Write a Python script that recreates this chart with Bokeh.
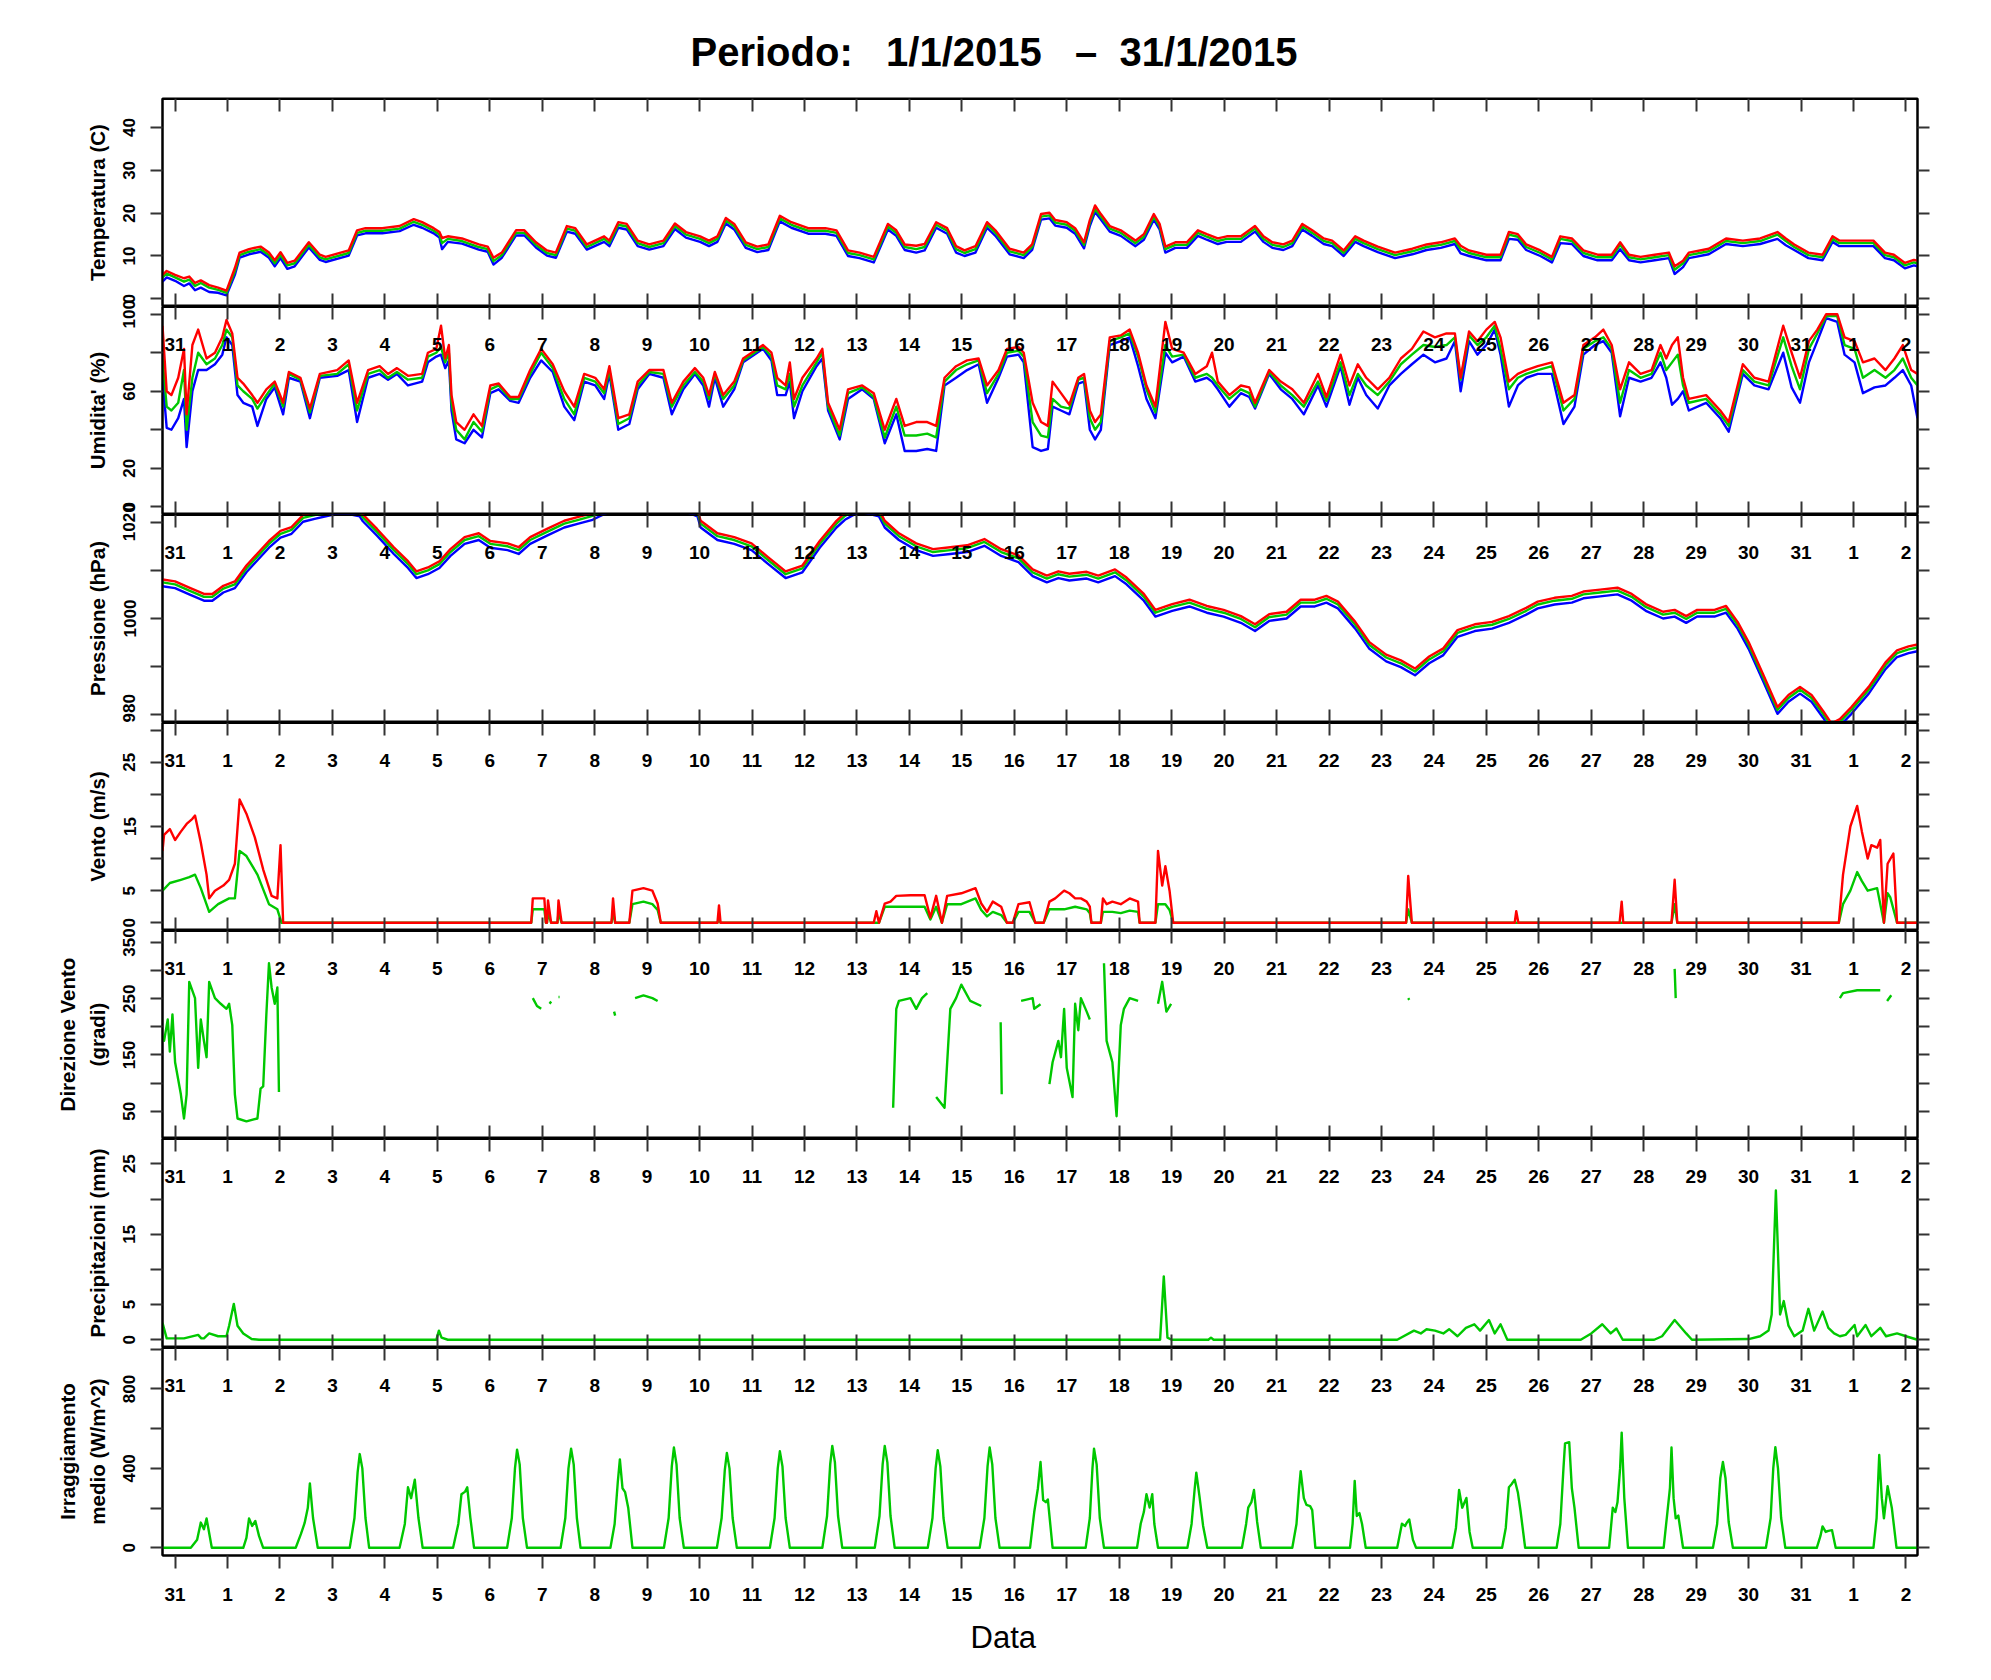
import numpy as np
from bokeh.plotting import figure
from bokeh.models import Range1d, LinearAxis, FixedTicker, Title
from bokeh.layouts import column
from bokeh.embed import file_html
from bokeh.resources import INLINE

nan = float("nan")

# ---------------- data (time = days since 1 Jan 2015 00:00) ----------------
day_ticks = list(range(-1, 33))
day_names = ["31"] + [str(d) for d in range(1, 32)] + ["1", "2"]

# Temperatura (C)
t_temp = [-1.24, -1.16, -1.00, -0.83, -0.73, -0.62, -0.51, -0.35, -0.18, -0.02,
          0.14, 0.23, 0.41, 0.63, 0.79, 0.90, 1.01, 1.14, 1.28, 1.55,
          1.76, 1.87, 2.31, 2.47, 2.63, 2.95, 3.28, 3.55, 3.71, 3.93,
          4.04, 4.09, 4.20, 4.47, 4.79, 4.96, 5.07, 5.23, 5.50, 5.66,
          5.88, 6.09, 6.26, 6.47, 6.63, 6.85, 7.18, 7.28, 7.45, 7.61,
          7.82, 8.04, 8.31, 8.53, 8.74, 9.01, 9.18, 9.34, 9.50, 9.66,
          9.88, 10.10, 10.31, 10.53, 10.75, 11.07, 11.40, 11.61, 11.83, 12.05,
          12.32, 12.59, 12.75, 12.91, 13.13, 13.29, 13.51, 13.72, 13.89, 14.05,
          14.26, 14.48, 14.64, 14.91, 15.18, 15.34, 15.51, 15.67, 15.78, 16.00,
          16.16, 16.33, 16.44, 16.54, 16.65, 16.82, 17.03, 17.31, 17.47, 17.66,
          17.77, 17.88, 18.07, 18.29, 18.50, 18.67, 18.88, 19.05, 19.32, 19.59,
          19.75, 19.92, 20.13, 20.30, 20.49, 20.68, 20.90, 21.06, 21.28, 21.50,
          21.66, 21.93, 22.26, 22.59, 22.86, 23.13, 23.40, 23.51, 23.67, 24.00,
          24.27, 24.43, 24.60, 24.76, 25.03, 25.25, 25.41, 25.63, 25.85, 26.12,
          26.39, 26.55, 26.72, 26.94, 27.21, 27.48, 27.59, 27.75, 27.86, 28.24,
          28.57, 28.89, 29.22, 29.55, 29.71, 29.87, 30.14, 30.41, 30.60, 30.73,
          31.05, 31.38, 31.60, 31.77, 31.98, 32.15, 32.22]
temp_mean = [5.0, 5.9, 5.0, 4.0, 4.5, 3.0, 3.7, 2.6, 2.1, 1.4,
             6.4, 10.2, 11.0, 11.6, 10.2, 8.3, 10.2, 7.8, 8.3, 12.6,
             9.7, 9.2, 10.7, 15.4, 15.9, 15.9, 16.4, 18.0, 17.3, 15.9,
             15.0, 13.0, 14.0, 13.5, 12.1, 11.6, 8.8, 10.2, 15.4, 15.4,
             12.6, 10.7, 10.2, 16.4, 15.9, 12.1, 14.0, 13.0, 17.3, 16.9,
             13.0, 12.1, 13.0, 17.0, 15.0, 14.0, 13.0, 14.0, 18.3, 16.9,
             12.6, 11.6, 12.1, 18.8, 17.3, 15.9, 15.9, 15.4, 10.7, 10.2,
             9.2, 16.9, 15.4, 12.1, 11.6, 12.1, 17.3, 15.9, 11.6, 10.7,
             11.6, 17.3, 15.4, 11.1, 10.2, 12.1, 19.2, 19.5, 17.8, 17.3,
             15.9, 12.6, 17.8, 21.0, 19.2, 16.4, 15.4, 13.0, 14.5, 19.2,
             16.9, 11.6, 12.6, 12.6, 15.4, 14.5, 13.5, 14.0, 14.0, 16.4,
             14.0, 12.6, 12.1, 13.0, 16.9, 15.4, 13.5, 13.0, 10.7, 14.0,
             13.0, 11.6, 10.2, 11.1, 12.1, 12.6, 13.5, 11.6, 10.7, 9.7,
             9.7, 15.0, 14.5, 12.1, 10.7, 9.2, 14.0, 13.5, 10.7, 9.7,
             9.7, 12.6, 9.7, 9.2, 9.7, 10.2, 6.8, 8.3, 10.2, 11.1,
             13.5, 13.0, 13.5, 15.0, 13.5, 12.1, 10.2, 9.7, 14.0, 13.0,
             13.0, 13.0, 10.2, 9.7, 7.8, 8.5, 8.3]
temp_max = [5.6, 6.5, 5.6, 4.8, 5.2, 3.7, 4.3, 3.2, 2.6, 1.9,
            7.2, 10.8, 11.6, 12.2, 10.8, 9.0, 10.9, 8.4, 8.9, 13.2,
            10.3, 9.8, 11.3, 16.0, 16.5, 16.5, 17.0, 18.6, 17.9, 16.5,
            15.6, 14.2, 14.6, 14.1, 12.7, 12.2, 9.6, 10.8, 16.0, 16.0,
            13.2, 11.3, 10.8, 17.0, 16.5, 12.7, 14.6, 13.6, 17.9, 17.5,
            13.6, 12.7, 13.6, 17.6, 15.6, 14.6, 13.6, 14.6, 18.9, 17.5,
            13.2, 12.2, 12.7, 19.4, 17.9, 16.5, 16.5, 16.0, 11.3, 10.8,
            9.8, 17.5, 16.0, 12.7, 12.4, 12.8, 17.9, 16.5, 12.3, 11.3,
            12.3, 17.9, 16.0, 11.7, 10.8, 12.7, 19.8, 20.1, 18.4, 17.9,
            16.5, 13.2, 18.4, 21.8, 19.8, 17.0, 16.0, 13.6, 15.1, 19.8,
            17.5, 12.2, 13.2, 13.2, 16.0, 15.1, 14.1, 14.6, 14.6, 17.0,
            14.6, 13.2, 12.7, 13.6, 17.5, 16.0, 14.1, 13.6, 11.3, 14.6,
            13.6, 12.2, 10.8, 11.7, 12.7, 13.2, 14.1, 12.4, 11.3, 10.3,
            10.3, 15.6, 15.1, 12.7, 11.3, 9.8, 14.6, 14.1, 11.3, 10.3,
            10.3, 13.2, 10.3, 9.8, 10.3, 10.8, 7.6, 8.9, 10.8, 11.7,
            14.1, 13.6, 14.1, 15.6, 14.1, 12.7, 10.8, 10.3, 14.6, 13.6,
            13.6, 13.6, 10.8, 10.3, 8.4, 9.1, 8.9]
temp_min = [4.0, 5.0, 4.2, 3.0, 3.6, 2.0, 2.6, 1.6, 1.4, 0.8,
            5.6, 9.6, 10.4, 11.0, 9.6, 7.6, 9.5, 7.0, 7.6, 12.0,
            9.1, 8.6, 10.1, 14.8, 15.3, 15.3, 15.8, 17.3, 16.6, 15.3,
            14.3, 11.6, 13.3, 12.9, 11.5, 11.0, 8.0, 9.6, 14.8, 14.8,
            12.0, 10.1, 9.6, 15.7, 15.2, 11.5, 13.3, 12.3, 16.6, 16.2,
            12.3, 11.5, 12.3, 16.3, 14.3, 13.3, 12.3, 13.3, 17.6, 16.2,
            11.9, 10.9, 11.4, 18.1, 16.6, 15.2, 15.2, 14.7, 10.0, 9.5,
            8.5, 16.2, 14.7, 11.4, 10.8, 11.3, 16.6, 15.2, 10.8, 10.0,
            10.8, 16.6, 14.7, 10.4, 9.5, 11.4, 18.5, 18.8, 17.1, 16.6,
            15.2, 11.8, 17.0, 20.3, 18.5, 15.7, 14.7, 12.3, 13.8, 18.5,
            16.2, 10.8, 11.9, 11.9, 14.7, 13.8, 12.8, 13.3, 13.3, 15.7,
            13.3, 11.9, 11.4, 12.3, 16.2, 14.7, 12.8, 12.3, 10.0, 13.3,
            12.3, 10.9, 9.5, 10.4, 11.4, 11.9, 12.8, 10.6, 10.0, 9.0,
            9.0, 14.0, 13.8, 11.4, 10.0, 8.5, 13.0, 12.8, 10.0, 9.0,
            9.0, 11.6, 9.0, 8.5, 9.0, 9.5, 5.8, 7.4, 9.5, 10.4,
            12.8, 12.3, 12.8, 14.0, 12.5, 11.4, 9.5, 9.0, 13.3, 12.3,
            12.3, 12.3, 9.5, 9.0, 7.1, 7.8, 7.6]

# Umidita' (%)
t_hum = [-1.24, -1.16, -1.07, -0.94, -0.83, -0.78, -0.67, -0.56, -0.40, -0.24,
         -0.10, -0.02, 0.09, 0.19, 0.30, 0.47, 0.57, 0.74, 0.90, 1.06,
         1.17, 1.39, 1.57, 1.76, 2.09, 2.31, 2.47, 2.68, 2.90, 3.06,
         3.23, 3.44, 3.71, 3.82, 3.98, 4.07, 4.15, 4.22, 4.27, 4.36,
         4.52, 4.69, 4.85, 5.01, 5.17, 5.39, 5.55, 5.77, 5.98, 6.20,
         6.42, 6.61, 6.80, 7.01, 7.18, 7.28, 7.45, 7.66, 7.82, 8.04,
         8.31, 8.47, 8.69, 8.91, 9.07, 9.18, 9.29, 9.45, 9.66, 9.83,
         10.21, 10.37, 10.48, 10.64, 10.72, 10.80, 10.96, 11.23, 11.34, 11.45,
         11.67, 11.83, 12.10, 12.32, 12.53, 12.75, 12.91, 13.13, 13.34, 13.51,
         13.67, 13.89, 14.10, 14.32, 14.48, 14.70, 14.86, 15.08, 15.18, 15.35,
         15.51, 15.64, 15.73, 15.89, 16.05, 16.22, 16.33, 16.44, 16.54, 16.65,
         16.82, 17.03, 17.20, 17.36, 17.52, 17.69, 17.88, 18.01, 18.23, 18.45,
         18.67, 18.77, 18.88, 19.10, 19.32, 19.48, 19.59, 19.86, 20.08, 20.30,
         20.52, 20.79, 20.95, 21.22, 21.39, 21.55, 21.71, 21.93, 22.15, 22.37,
         22.58, 22.80, 23.02, 23.24, 23.40, 23.51, 23.67, 23.83, 24.00, 24.16,
         24.27, 24.43, 24.60, 24.76, 24.98, 25.25, 25.47, 25.68, 25.85, 26.07,
         26.23, 26.39, 26.55, 26.72, 26.94, 27.15, 27.32, 27.43, 27.54, 27.65,
         27.75, 27.86, 28.19, 28.46, 28.62, 28.89, 29.11, 29.38, 29.66, 29.82,
         29.98, 30.15, 30.31, 30.48, 30.69, 30.83, 31.02, 31.18, 31.40, 31.61,
         31.78, 31.94, 32.10, 32.22]
hum_mean = [77, 52, 50, 54, 71, 40, 67, 80, 74, 77,
            84, 92, 88, 63, 60, 56, 51, 58, 64, 52,
            69, 66, 49, 68, 69, 74, 50, 69, 71, 67,
            70, 66, 67, 78, 80, 83, 75, 80, 54, 40,
            35, 44, 39, 61, 63, 56, 56, 69, 80, 72,
            56, 48, 67, 65, 59, 71, 43, 46, 63, 70,
            69, 52, 63, 70, 65, 56, 69, 56, 63, 76,
            83, 78, 63, 61, 69, 52, 63, 75, 80, 52,
            37, 59, 62, 57, 36, 52, 37, 37, 38, 36,
            65, 71, 74, 76, 59, 69, 80, 81, 78, 44,
            37, 36, 56, 52, 51, 66, 67, 46, 40, 44,
            86, 88, 90, 78, 61, 49, 84, 78, 79, 67,
            69, 67, 63, 56, 61, 59, 52, 70, 63, 58,
            52, 65, 55, 75, 58, 69, 63, 58, 65, 74,
            79, 84, 83, 84, 88, 66, 89, 84, 88, 94,
            82, 61, 67, 69, 71, 73, 50, 56, 82, 86,
            88, 82, 54, 71, 67, 69, 80, 71, 75, 79,
            63, 54, 56, 48, 42, 71, 65, 63, 88, 73,
            61, 82, 90, 99, 99, 84, 82, 67, 71, 67,
            71, 77, 67, 63]
hum_max = [94, 60, 58, 67, 82, 48, 84, 92, 77, 80,
           88, 97, 90, 67, 64, 58, 54, 61, 65, 54,
           70, 67, 51, 69, 71, 76, 54, 71, 73, 69,
           72, 68, 69, 80, 82, 94, 77, 84, 58, 44,
           40, 48, 42, 63, 64, 57, 57, 71, 82, 74,
           60, 52, 69, 67, 61, 73, 46, 48, 65, 71,
           71, 54, 65, 72, 67, 58, 70, 58, 65, 77,
           84, 80, 67, 63, 75, 56, 67, 77, 82, 54,
           40, 61, 63, 59, 40, 56, 42, 44, 44, 42,
           67, 73, 76, 77, 63, 71, 82, 83, 80, 54,
           44, 42, 65, 59, 53, 67, 69, 50, 44, 48,
           88, 89, 92, 80, 63, 52, 96, 82, 80, 69,
           73, 80, 65, 58, 63, 62, 54, 71, 65, 61,
           54, 69, 57, 79, 63, 74, 67, 61, 67, 77,
           82, 91, 88, 90, 90, 67, 91, 86, 92, 96,
           88, 65, 69, 71, 73, 75, 54, 58, 84, 88,
           92, 84, 61, 75, 69, 71, 84, 77, 84, 88,
           67, 56, 58, 50, 44, 74, 67, 65, 94, 80,
           67, 86, 92, 100, 100, 88, 86, 75, 77, 71,
           77, 84, 71, 69]
hum_min = [67, 41, 40, 46, 56, 31, 60, 71, 71, 74,
           79, 88, 84, 58, 54, 52, 42, 56, 62, 48,
           67, 65, 46, 67, 68, 71, 44, 67, 69, 66,
           69, 63, 65, 75, 78, 79, 72, 76, 50, 35,
           33, 40, 36, 59, 61, 55, 54, 67, 76, 70,
           52, 45, 65, 63, 56, 69, 40, 43, 61, 69,
           67, 48, 61, 69, 63, 52, 67, 52, 61, 75,
           82, 76, 58, 58, 65, 46, 60, 73, 77, 50,
           35, 56, 61, 56, 33, 48, 29, 29, 30, 29,
           63, 67, 71, 74, 54, 67, 78, 79, 75, 31,
           29, 30, 52, 50, 48, 64, 65, 40, 35, 40,
           84, 86, 88, 73, 56, 46, 80, 75, 78, 65,
           67, 65, 61, 52, 59, 57, 51, 69, 61, 56,
           48, 63, 52, 73, 53, 67, 58, 51, 63, 69,
           74, 79, 75, 77, 86, 60, 86, 79, 84, 92,
           79, 52, 63, 67, 69, 69, 43, 52, 79, 84,
           86, 80, 47, 67, 65, 67, 75, 67, 53, 56,
           60, 50, 54, 46, 39, 69, 63, 61, 80, 62,
           54, 75, 86, 98, 96, 79, 75, 59, 62, 63,
           67, 71, 63, 46]

# Pressione (hPa)
t_pres = [-1.24, -1.00, -0.73, -0.45, -0.29, -0.08, 0.14, 0.36, 0.57, 0.79,
          1.01, 1.22, 1.44, 1.66, 1.98, 2.31, 2.52, 2.58, 2.85, 3.17,
          3.44, 3.60, 3.82, 4.04, 4.25, 4.52, 4.79, 5.01, 5.34, 5.55,
          5.77, 6.09, 6.42, 6.69, 6.96, 7.28, 7.80, 8.37, 8.96, 9.02,
          9.34, 9.66, 9.99, 10.31, 10.64, 10.96, 11.29, 11.61, 11.77, 12.05,
          12.42, 12.53, 12.80, 13.13, 13.45, 13.78, 14.10, 14.43, 14.75, 15.08,
          15.35, 15.62, 15.84, 16.05, 16.38, 16.60, 16.92, 17.14, 17.47, 17.69,
          18.01, 18.34, 18.67, 18.99, 19.32, 19.59, 19.86, 20.19, 20.46, 20.73,
          20.95, 21.17, 21.50, 21.77, 22.09, 22.37, 22.64, 22.91, 23.18, 23.45,
          23.78, 24.11, 24.43, 24.76, 24.98, 25.30, 25.63, 25.85, 26.17, 26.50,
          26.77, 27.04, 27.37, 27.59, 27.81, 28.02, 28.35, 28.57, 28.79, 29.00,
          29.28, 29.55, 29.76, 29.98, 30.20, 30.42, 30.58, 30.74, 30.96, 31.29,
          31.61, 31.83, 32.05, 32.22]
pres_mean = [1007.5, 1007.1, 1005.8, 1004.5, 1004.5, 1006.2, 1007.1, 1010.4, 1012.9, 1015.5,
             1017.6, 1018.4, 1020.9, 1021.5, 1022.3, 1022.5, 1022.0, 1021.0, 1018.0, 1014.2,
             1011.3, 1009.2, 1010.0, 1011.3, 1013.8, 1016.3, 1017.1, 1015.5, 1015.0, 1014.2,
             1016.3, 1018.0, 1019.7, 1020.5, 1021.3, 1023.0, 1024.0, 1024.5, 1022.0, 1019.7,
             1017.1, 1016.3, 1015.0, 1012.1, 1009.2, 1010.4, 1015.5, 1019.7, 1021.3, 1023.0,
             1022.0, 1019.7, 1017.1, 1015.0, 1013.8, 1014.2, 1014.6, 1015.9, 1013.8, 1012.5,
             1009.6, 1008.3, 1009.2, 1008.7, 1009.1, 1008.3, 1009.6, 1007.9, 1004.5, 1001.2,
             1002.4, 1003.3, 1002.0, 1001.2, 999.9, 998.2, 1000.3, 1000.8, 1003.3, 1003.3,
             1004.1, 1002.9, 998.7, 994.5, 991.9, 990.7, 989.0, 991.5, 993.2, 997.0,
             998.2, 998.7, 999.9, 1001.6, 1002.9, 1003.7, 1004.1, 1005.0, 1005.4, 1005.8,
             1004.5, 1002.4, 1000.8, 1001.2, 999.9, 1001.2, 1001.2, 1002.0, 998.7, 994.5,
             987.7, 981.0, 983.5, 985.2, 983.5, 980.2, 977.6, 978.5, 981.0, 985.2,
             990.3, 992.8, 993.6, 994.0]
pres_max = [1008.1, 1007.7, 1006.4, 1005.1, 1005.1, 1006.8, 1007.7, 1011.0, 1013.5, 1016.1,
            1018.2, 1019.0, 1021.5, 1022.1, 1022.9, 1023.1, 1022.6, 1021.6, 1018.6, 1014.8,
            1011.9, 1009.8, 1010.6, 1011.9, 1014.4, 1016.9, 1017.7, 1016.1, 1015.6, 1014.8,
            1016.9, 1018.6, 1020.3, 1021.1, 1021.9, 1023.6, 1024.6, 1025.1, 1022.6, 1020.3,
            1017.7, 1016.9, 1015.6, 1012.7, 1009.8, 1011.0, 1016.1, 1020.3, 1021.9, 1023.6,
            1022.6, 1020.3, 1017.7, 1015.6, 1014.4, 1014.8, 1015.2, 1016.5, 1014.4, 1013.1,
            1010.2, 1008.9, 1009.8, 1009.3, 1009.7, 1008.9, 1010.2, 1008.5, 1005.1, 1001.8,
            1003.0, 1003.9, 1002.6, 1001.8, 1000.5, 998.8, 1000.9, 1001.4, 1003.9, 1003.9,
            1004.7, 1003.5, 999.3, 995.1, 992.5, 991.3, 989.6, 992.1, 993.8, 997.6,
            998.8, 999.3, 1000.5, 1002.2, 1003.5, 1004.3, 1004.7, 1005.6, 1006.0, 1006.4,
            1005.1, 1003.0, 1001.4, 1001.8, 1000.5, 1001.8, 1001.8, 1002.6, 999.3, 995.1,
            988.3, 981.6, 984.1, 985.8, 984.1, 980.8, 978.2, 979.1, 981.6, 985.8,
            990.9, 993.4, 994.2, 994.6]
pres_min = [1006.7, 1006.3, 1005.0, 1003.7, 1003.7, 1005.4, 1006.3, 1009.6, 1012.1, 1014.7,
            1016.8, 1017.6, 1020.1, 1020.7, 1021.5, 1021.7, 1021.2, 1020.2, 1017.2, 1013.4,
            1010.5, 1008.4, 1009.2, 1010.5, 1013.0, 1015.5, 1016.3, 1014.7, 1014.2, 1013.4,
            1015.5, 1017.2, 1018.9, 1019.7, 1020.5, 1022.2, 1023.2, 1023.7, 1021.2, 1018.9,
            1016.3, 1015.5, 1014.2, 1011.3, 1008.4, 1009.6, 1014.7, 1018.9, 1020.5, 1022.2,
            1021.2, 1018.9, 1016.3, 1014.2, 1013.0, 1013.4, 1013.8, 1015.1, 1013.0, 1011.7,
            1008.8, 1007.5, 1008.4, 1007.9, 1008.3, 1007.5, 1008.8, 1007.1, 1003.7, 1000.4,
            1001.6, 1002.5, 1001.2, 1000.4, 999.1, 997.4, 999.5, 1000.0, 1002.5, 1002.5,
            1003.3, 1002.1, 997.9, 993.7, 991.1, 989.9, 988.2, 990.7, 992.4, 996.2,
            997.4, 997.9, 999.1, 1000.8, 1002.1, 1002.9, 1003.3, 1004.2, 1004.6, 1005.0,
            1003.7, 1001.6, 1000.0, 1000.4, 999.1, 1000.4, 1000.4, 1001.2, 997.9, 993.7,
            986.9, 980.2, 982.7, 984.4, 982.7, 979.4, 976.8, 977.7, 980.2, 984.4,
            989.5, 992.0, 992.8, 993.2]

# Vento (m/s): raffica (red) and media (green)
t_gust = [-1.24, -1.21, -1.10, -1.00, -0.89, -0.78, -0.67, -0.62, -0.51, -0.40,
          -0.35, -0.24, -0.08, 0.03, 0.14, 0.23, 0.36, 0.52, 0.68, 0.84,
          0.95, 1.01, 1.06, 5.79, 5.82, 6.04, 6.07, 6.09, 6.11, 6.17,
          6.29, 6.31, 6.37, 7.32, 7.35, 7.39, 7.66, 7.72, 7.93, 8.10,
          8.20, 8.26, 9.34, 9.37, 9.40, 12.32, 12.37, 12.42, 12.53, 12.64,
          12.75, 13.02, 13.29, 13.40, 13.51, 13.62, 13.72, 13.99, 14.26, 14.37,
          14.48, 14.59, 14.75, 14.86, 14.97, 15.08, 15.29, 15.40, 15.56, 15.67,
          15.78, 15.95, 16.05, 16.16, 16.27, 16.38, 16.44, 16.47, 16.65, 16.69,
          16.76, 16.87, 17.03, 17.20, 17.36, 17.39, 17.69, 17.74, 17.82, 17.88,
          17.96, 18.03, 22.47, 22.51, 22.58, 24.54, 24.57, 24.61, 26.54, 26.58,
          26.61, 27.53, 27.59, 27.64, 30.72, 30.80, 30.94, 31.07, 31.16, 31.27,
          31.34, 31.45, 31.51, 31.58, 31.65, 31.76, 31.83, 32.22]
wind_gust = [11.2, 13.7, 14.6, 12.9, 14.2, 15.4, 16.2, 16.7, 12.5, 7.5,
             3.8, 5.0, 5.8, 6.7, 9.2, 19.2, 17.0, 13.3, 8.3, 4.2,
             3.8, 12.1, 0, 0, 3.8, 3.8, 0, 0, 3.5, 0,
             0, 3.5, 0, 0, 3.8, 0, 0, 5.0, 5.4, 5.0,
             3.0, 0, 0, 2.7, 0, 0, 1.8, 0, 3.0, 3.3,
             4.2, 4.3, 4.3, 0.8, 4.2, 0, 4.2, 4.6, 5.4, 3.0,
             1.7, 3.3, 2.5, 0, 0, 2.9, 3.2, 0, 0, 3.3,
             3.8, 5.0, 4.6, 3.8, 3.8, 3.3, 2.5, 0, 0, 3.8,
             2.9, 3.3, 2.9, 3.8, 3.3, 0, 0, 11.2, 5.8, 8.8,
             5.0, 0, 0, 7.3, 0, 0, 1.8, 0, 0, 3.3,
             0, 0, 6.7, 0, 0, 7.5, 15.0, 18.2, 14.2, 10.0,
             12.1, 11.7, 12.9, 0, 9.2, 10.8, 0, 0]
t_wind = [-1.24, -1.10, -0.89, -0.73, -0.62, -0.51, -0.35, -0.18, 0.03, 0.14,
          0.23, 0.36, 0.57, 0.79, 0.95, 1.03, 5.79, 5.82, 6.04, 6.07,
          6.09, 6.11, 6.17, 6.29, 6.31, 6.37, 7.32, 7.35, 7.39, 7.66,
          7.72, 7.93, 8.10, 8.20, 8.26, 9.34, 9.37, 9.40, 12.42, 12.53,
          12.75, 13.02, 13.29, 13.40, 13.51, 13.62, 13.72, 13.99, 14.26, 14.37,
          14.48, 14.59, 14.75, 14.86, 14.97, 15.08, 15.29, 15.40, 15.56, 15.67,
          15.95, 16.16, 16.38, 16.44, 16.47, 16.65, 16.69, 16.87, 17.03, 17.20,
          17.36, 17.39, 17.69, 17.74, 17.88, 17.96, 18.03, 22.47, 22.51, 22.58,
          27.53, 27.59, 27.64, 30.72, 30.80, 30.94, 31.07, 31.16, 31.27, 31.45,
          31.58, 31.65, 31.70, 31.83, 32.22]
wind_mean = [5.0, 6.2, 6.7, 7.1, 7.5, 5.4, 1.7, 2.9, 3.8, 3.8,
             11.2, 10.4, 7.5, 2.9, 2.1, 0, 0, 2.1, 2.1, 0,
             0, 1.5, 0, 0, 1.5, 0, 0, 1.7, 0, 0,
             2.9, 3.3, 2.9, 2.0, 0, 0, 0.5, 0, 0, 2.5,
             2.5, 2.5, 2.5, 0.5, 2.5, 0, 2.9, 2.9, 3.8, 2.0,
             1.0, 1.7, 1.2, 0, 0, 1.7, 1.7, 0, 0, 2.1,
             2.1, 2.5, 2.1, 1.5, 0, 0, 1.7, 1.7, 1.5, 1.9,
             1.7, 0, 0, 2.9, 2.9, 2.0, 0, 0, 2.1, 0,
             0, 2.9, 0, 0, 2.9, 5.0, 7.9, 6.5, 5.0, 5.4,
             0, 4.6, 4.0, 0, 0]

# Direzione Vento (gradi); nan = calma / dato mancante
t_dir = [-1.24, -1.21, -1.14, -1.10, -1.05, -1.00, -0.89, -0.83, -0.78, -0.73,
         -0.62, -0.56, -0.51, -0.45, -0.40, -0.35, -0.24, -0.13, -0.02, 0.03,
         0.09, 0.14, 0.19, 0.36, 0.57, 0.63, 0.68, 0.74, 0.79, 0.84,
         0.90, 0.95, 0.98, 1.00,
         5.82, 5.90, 5.98, 6.00, 6.14, 6.17, 6.19, 6.31, 6.33, 6.35,
         7.37, 7.39, 7.41, 7.77, 7.93, 8.10, 8.20, 8.22,
         12.69, 12.75, 12.80, 13.02, 13.13, 13.24, 13.34, 13.36,
         13.51, 13.67, 13.78, 13.89, 13.99, 14.16, 14.37, 14.39,
         14.74, 14.76, 14.78, 15.13, 15.35, 15.38, 15.50, 15.52,
         15.67, 15.73, 15.84, 15.89, 15.95, 16.00, 16.11, 16.16, 16.22, 16.27, 16.38, 16.44, 16.46,
         16.71, 16.76, 16.87, 16.95, 17.03, 17.09, 17.20, 17.36, 17.38,
         17.74, 17.82, 17.90, 17.99, 18.01,
         22.51, 22.53, 22.55,
         27.59, 27.61, 27.63,
         30.74, 30.80, 31.07, 31.29, 31.51, 31.53, 31.64, 31.72, 31.74]
wind_dir = [184, 175, 213, 156, 222, 137, 80, 37, 80, 280,
            251, 127, 213, 175, 146, 280, 251, 241, 232, 241,
            203, 80, 37, 32, 37, 90, 94, 222, 313, 270,
            241, 270, 84, nan,
            251, 237, 232, nan, 241, 245, nan, 253, 253, nan,
            227, 220, nan, 251, 256, 251, 246, nan,
            56, 232, 246, 251, 232, 251, 260, nan,
            75, 56, 232, 251, 275, 246, 237, nan,
            208, 80, nan, 246, 251, 232, 240, nan,
            98, 137, 175, 146, 232, 127, 75, 241, 194, 251, 227, 213, nan,
            313, 175, 137, 41, 203, 232, 251, 246, nan,
            241, 280, 227, 241, nan,
            251, 248, nan,
            303, 251, nan,
            251, 260, 265, 265, 265, nan, 246, 256, nan]

# Precipitazioni (mm)
t_rain = [-1.24, -1.16, -0.83, -0.56, -0.50, -0.45, -0.35, -0.18, -0.02, 0.03,
          0.12, 0.19, 0.30, 0.46, 0.60, 3.98, 4.03, 4.08, 4.20, 17.78,
          17.85, 17.92, 18.00, 18.70, 18.75, 18.80, 22.30, 22.62, 22.75, 22.86,
          23.02, 23.18, 23.29, 23.45, 23.61, 23.77, 23.88, 24.05, 24.16, 24.27,
          24.40, 25.80, 26.00, 26.21, 26.37, 26.48, 26.60, 27.20, 27.35, 27.59,
          27.81, 27.92, 29.00, 29.22, 29.38, 29.44, 29.52, 29.60, 29.67, 29.76,
          29.87, 30.03, 30.14, 30.25, 30.41, 30.52, 30.63, 30.74, 30.85, 31.02,
          31.07, 31.23, 31.34, 31.51, 31.62, 31.83, 32.00, 32.22]
rain = [2.4, 0.2, 0.2, 0.7, 0.2, 0.2, 0.9, 0.5, 0.5, 2.0,
        5.1, 2.0, 0.9, 0.1, 0.0, 0.0, 1.3, 0.3, 0.0, 0.0,
        9.0, 0.3, 0.0, 0.0, 0.3, 0.0, 0.0, 1.3, 0.9, 1.5,
        1.3, 0.9, 1.5, 0.5, 1.7, 2.2, 1.3, 2.8, 0.9, 2.2,
        0.0, 0.0, 0.9, 2.2, 0.9, 1.6, 0.0, 0.0, 0.5, 2.8,
        0.9, 0.0, 0.1, 0.5, 1.3, 3.6, 21.2, 3.6, 5.5, 2.0,
        0.5, 1.3, 4.4, 1.3, 4.0, 1.7, 0.9, 0.5, 0.7, 2.1,
        0.5, 2.1, 0.5, 1.7, 0.5, 0.9, 0.5, 0.0]

# Irraggiamento medio (W/m^2)
t_rad = [-1.24, -0.70, -0.58, -0.51, -0.45, -0.40, -0.30,
         0.30, 0.36, 0.41, 0.47, 0.53, 0.60, 0.68,
         1.30, 1.40, 1.47, 1.53, 1.57, 1.63, 1.72,
         2.33, 2.42, 2.48, 2.52, 2.57, 2.63, 2.70,
         3.28, 3.38, 3.44, 3.50, 3.57, 3.64, 3.72,
         4.30, 4.40, 4.46, 4.53, 4.57, 4.63, 4.70,
         5.33, 5.42, 5.48, 5.52, 5.57, 5.63, 5.71,
         6.35, 6.44, 6.50, 6.55, 6.60, 6.66, 6.73,
         7.30, 7.38, 7.44, 7.48, 7.53, 7.58, 7.64, 7.72,
         8.32, 8.41, 8.47, 8.51, 8.56, 8.62, 8.70,
         9.33, 9.42, 9.48, 9.52, 9.57, 9.63, 9.71,
         10.34, 10.43, 10.49, 10.53, 10.58, 10.64, 10.72,
         11.34, 11.43, 11.49, 11.53, 11.58, 11.64, 11.72,
         12.34, 12.43, 12.49, 12.53, 12.58, 12.64, 12.72,
         13.35, 13.44, 13.50, 13.54, 13.59, 13.65, 13.73,
         14.34, 14.43, 14.49, 14.53, 14.58, 14.64, 14.72,
         15.30, 15.38, 15.45, 15.50, 15.55, 15.60, 15.64, 15.73,
         16.36, 16.44, 16.49, 16.52, 16.57, 16.63, 16.71,
         17.34, 17.41, 17.47, 17.52, 17.58, 17.63, 17.67, 17.74,
         18.30, 18.38, 18.44, 18.47, 18.53, 18.60, 18.68,
         19.34, 19.42, 19.46, 19.52, 19.57, 19.63, 19.70,
         20.30, 20.38, 20.43, 20.46, 20.52, 20.57, 20.64, 20.68, 20.74,
         21.40, 21.45, 21.49, 21.53, 21.58, 21.63, 21.70,
         22.30, 22.39, 22.45, 22.48, 22.53, 22.60, 22.66,
         23.35, 23.42, 23.48, 23.54, 23.62, 23.68, 23.74,
         24.30, 24.37, 24.43, 24.48, 24.54, 24.60, 24.65, 24.74,
         25.34, 25.41, 25.47, 25.50, 25.58, 25.63, 25.68, 25.76,
         26.34, 26.41, 26.46, 26.50, 26.55, 26.58, 26.63, 26.70,
         27.38, 27.45, 27.50, 27.53, 27.57, 27.61, 27.66, 27.75,
         28.32, 28.40, 28.46, 28.51, 28.56, 28.62, 28.70,
         29.33, 29.42, 29.47, 29.51, 29.56, 29.62, 29.70,
         30.30, 30.37, 30.41, 30.47, 30.52, 30.59, 30.66,
         31.38, 31.44, 31.49, 31.54, 31.58, 31.65, 31.73, 31.82,
         32.22]
radiation = [0, 0, 40, 127, 94, 148, 0,
             0, 50, 148, 110, 135, 60, 0,
             0, 70, 125, 200, 324, 150, 0,
             0, 150, 380, 472, 400, 150, 0,
             0, 120, 305, 250, 343, 150, 0,
             0, 120, 270, 283, 305, 150, 0,
             0, 150, 400, 494, 420, 150, 0,
             0, 150, 400, 499, 420, 150, 0,
             0, 120, 330, 445, 300, 280, 200, 0,
             0, 150, 410, 505, 420, 150, 0,
             0, 150, 390, 478, 400, 150, 0,
             0, 150, 400, 486, 410, 150, 0,
             0, 160, 420, 513, 430, 160, 0,
             0, 160, 420, 513, 430, 160, 0,
             0, 150, 400, 491, 410, 150, 0,
             0, 150, 410, 505, 420, 150, 0,
             0, 180, 300, 432, 240, 230, 243, 0,
             0, 150, 400, 499, 420, 150, 0,
             0, 121, 180, 270, 203, 270, 120, 0,
             0, 120, 300, 378, 260, 110, 0,
             0, 120, 202, 230, 291, 130, 0,
             0, 120, 300, 386, 250, 216, 210, 190, 0,
             0, 120, 337, 160, 175, 120, 0,
             0, 121, 110, 125, 143, 40, 0,
             0, 100, 291, 202, 251, 80, 0,
             0, 100, 305, 320, 343, 280, 189, 0,
             0, 120, 400, 526, 532, 300, 202, 0,
             0, 202, 180, 229, 400, 580, 250, 0,
             0, 175, 300, 505, 250, 148, 162, 0,
             0, 120, 350, 432, 350, 130, 0,
             0, 150, 400, 507, 400, 150, 0,
             0, 60, 108, 80, 85, 89, 0,
             0, 150, 467, 250, 148, 310, 202, 0,
             0]

# ---------------- styling ----------------
FONT = "Liberation Sans"
RED, GREEN, BLUE = "#FF0000", "#00C800", "#0000FF"
LW = 2.4
X_START, X_END = -1.24, 32.22
NB = "\u00a0"
TITLE = "Periodo:" + NB * 3 + "1/1/2015" + NB * 3 + "\u2013" + NB * 2 + "31/1/2015"
day_label_map = {t: n for t, n in zip(day_ticks, day_names)}
blank_days = {t: "" for t in day_ticks}

panels = [
    dict(label="Temperatura (C)", yr=(-1.8, 46.8), ticks=[0, 10, 20, 30, 40], shown=[0, 10, 20, 30, 40],
         series=[(t_temp, temp_min, BLUE), (t_temp, temp_mean, GREEN), (t_temp, temp_max, RED)], fh=208),
    dict(label="Umidita' (%)", yr=(-4, 104), ticks=[0, 20, 40, 60, 80, 100], shown=[0, 20, 60, 100],
         series=[(t_hum, hum_min, BLUE), (t_hum, hum_mean, GREEN), (t_hum, hum_max, RED)], fh=208),
    dict(label="Pressione (hPa)", yr=(978.4, 1021.6), ticks=[980, 990, 1000, 1010, 1020], shown=[980, 1000, 1020],
         series=[(t_pres, pres_min, BLUE), (t_pres, pres_mean, GREEN), (t_pres, pres_max, RED)], fh=208),
    dict(label="Vento (m/s)", yr=(-1.2, 31.2), ticks=[0, 5, 10, 15, 20, 25, 30], shown=[0, 5, 15, 25],
         series=[(t_wind, wind_mean, GREEN), (t_gust, wind_gust, RED)], fh=208),
    dict(label="Direzione Vento\n(gradi)", yr=(1.4, 371.3), ticks=[50, 100, 150, 200, 250, 300, 350],
         shown=[50, 150, 250, 350], series=[(t_dir, wind_dir, GREEN)], fh=208),
    dict(label="Precipitazioni (mm)", yr=(-1.1, 28.6), ticks=[0, 5, 10, 15, 20, 25], shown=[0, 5, 15, 25],
         series=[(t_rain, rain, GREEN)], fh=209),
    dict(label="Irraggiamento\nmedio (W/m^2)", yr=(-38.8, 1008.8), ticks=[0, 200, 400, 600, 800, 1000],
         shown=[0, 400, 800], series=[(t_rad, radiation, GREEN)], fh=208),
]

OVERLAP = 30
TOP_FIRST = 98
BOTTOM_LAST = 128
LEFT = 162
RIGHT = 58
WIDTH = 1975


def x_axis(loc, tick_in, tick_out, with_labels):
    ax = LinearAxis(ticker=FixedTicker(ticks=day_ticks), fixed_location=loc,
                    major_tick_in=tick_in, major_tick_out=tick_out,
                    major_tick_line_width=2, major_tick_line_color="#333333",
                    minor_tick_line_color=None, axis_line_width=3, axis_line_color="black")
    if with_labels:
        ax.major_label_overrides = day_label_map
        ax.major_label_text_font = FONT
        ax.major_label_text_font_style = "bold"
        ax.major_label_text_font_size = "19px"
        ax.major_label_text_color = "black"
        ax.major_label_standoff = 18
    else:
        ax.major_label_overrides = blank_days
        ax.major_label_text_font_size = "0px"
    return ax


figs = []
for i, spec in enumerate(panels):
    first, last = i == 0, i == len(panels) - 1
    top = TOP_FIRST if first else OVERLAP
    bottom = BOTTOM_LAST if last else 0
    p = figure(width=WIDTH, height=top + spec["fh"] + bottom,
               x_range=Range1d(X_START, X_END), y_range=Range1d(*spec["yr"]),
               output_backend="svg", toolbar_location=None,
               x_axis_location="below" if last else None, y_axis_location="left",
               min_border_left=LEFT, min_border_right=RIGHT,
               min_border_top=top, min_border_bottom=bottom,
               background_fill_color="white", border_fill_color=None,
               outline_line_color="black", outline_line_width=2)
    if not first:
        p.margin = (-OVERLAP, 0, 0, 0)
    p.grid.visible = False

    for xs, ys, col in spec["series"]:
        p.line(np.asarray(xs, dtype=float), np.asarray(ys, dtype=float),
               line_color=col, line_width=LW, line_join="round")

    # left y axis
    ya = p.yaxis[0]
    ya.ticker = FixedTicker(ticks=spec["ticks"])
    ya.major_label_overrides = {t: ("" if t not in spec["shown"] else str(t)) for t in spec["ticks"]}
    ya.major_label_orientation = "vertical"
    ya.major_label_text_font = FONT
    ya.major_label_text_font_style = "bold"
    ya.major_label_text_font_size = "17px"
    ya.major_label_text_color = "black"
    ya.major_label_standoff = 15
    ya.major_tick_in = 0
    ya.major_tick_out = 12
    ya.major_tick_line_width = 2
    ya.major_tick_line_color = "#333333"
    ya.minor_tick_line_color = None
    ya.axis_line_width = 2
    ya.axis_label = spec["label"]
    ya.axis_label_text_font = FONT
    ya.axis_label_text_font_style = "bold"
    ya.axis_label_text_font_size = "20.5px"
    ya.axis_label_text_color = "black"
    ya.axis_label_standoff = 12
    ya.axis_label_text_line_height = 1.3

    # right y axis (ticks only)
    ra = LinearAxis(ticker=FixedTicker(ticks=spec["ticks"]),
                    major_label_overrides={t: "" for t in spec["ticks"]},
                    major_label_text_font_size="0px",
                    major_tick_in=0, major_tick_out=12, major_tick_line_width=2,
                    major_tick_line_color="#333333", minor_tick_line_color=None,
                    axis_line_width=2)
    p.add_layout(ra, "right")

    y0, y1 = spec["yr"]
    if first:
        p.add_layout(x_axis(y1, 0, 13, False), "below")       # inward ticks at top edge
    else:
        p.add_layout(x_axis(y1, 0, 13, True), "below")        # ticks + day labels under the boundary
    if not last:
        p.add_layout(x_axis(y0, 13, 0, False), "below")       # inward ticks at bottom edge
    else:
        xa = p.xaxis[0]
        xa.ticker = FixedTicker(ticks=day_ticks)
        xa.major_label_overrides = day_label_map
        xa.major_label_text_font = FONT
        xa.major_label_text_font_style = "bold"
        xa.major_label_text_font_size = "19px"
        xa.major_label_text_color = "black"
        xa.major_label_standoff = 19
        xa.major_tick_in = 0
        xa.major_tick_out = 13
        xa.major_tick_line_width = 2
        xa.major_tick_line_color = "#333333"
        xa.minor_tick_line_color = None
        xa.axis_line_width = 2
        p.add_layout(Title(text="Data", align="left", offset=808, text_font=FONT,
                           text_font_style="normal", text_font_size="31px",
                           text_color="black", standoff=29), "below")

    if first:
        p.add_layout(Title(text=TITLE, align="left", offset=528,
                           text_font=FONT, text_font_style="bold", text_font_size="40px",
                           text_color="black", standoff=49), "above")
    figs.append(p)

layout = column(*figs, spacing=0)
open("out.html", "w").write(file_html(layout, INLINE))
